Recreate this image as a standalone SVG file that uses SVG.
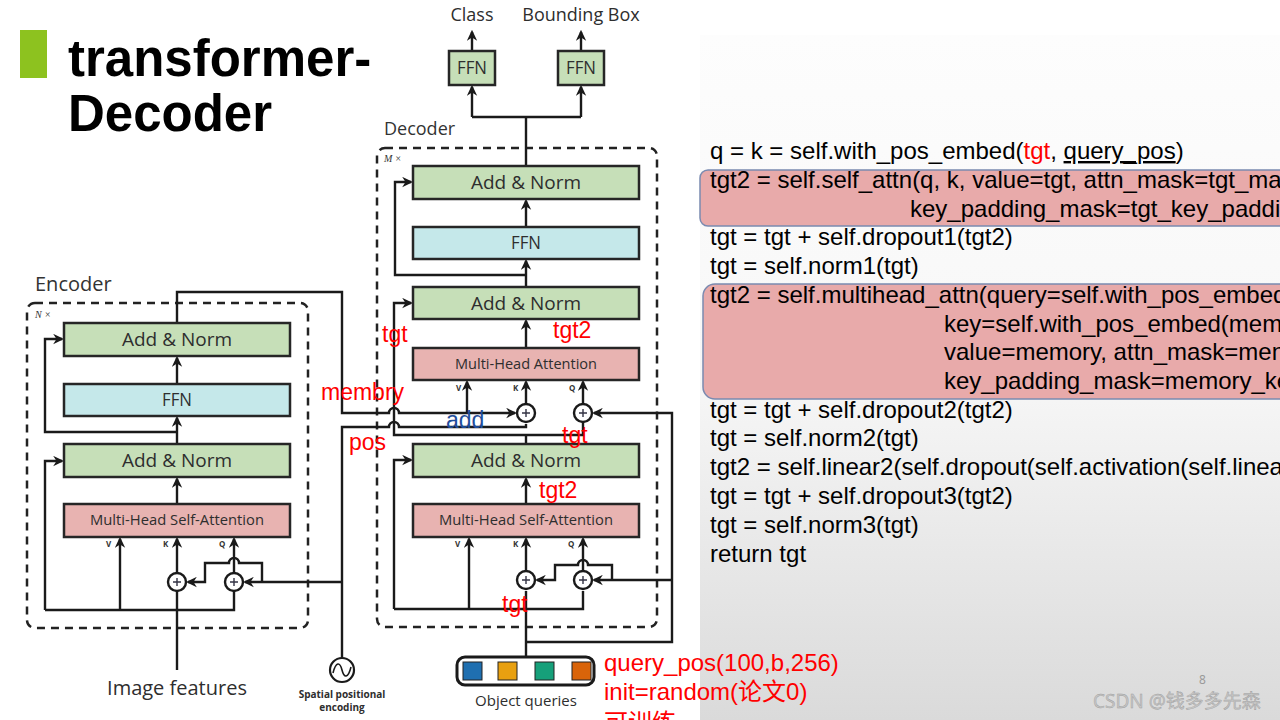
<svg xmlns="http://www.w3.org/2000/svg" width="1280" height="720" viewBox="0 0 1280 720">
<defs>
<linearGradient id="panelg" x1="0" y1="0" x2="0" y2="1">
<stop offset="0" stop-color="#fdfdfd"/>
<stop offset="0.5" stop-color="#f7f7f7"/>
<stop offset="1" stop-color="#dadada"/>
</linearGradient>
<marker id="ah" viewBox="0 0 10 10" refX="8" refY="5" markerWidth="11" markerHeight="11" markerUnits="userSpaceOnUse" orient="auto">
<path d="M0,0.3 L10,5 L0,9.7 L3,5 z" fill="#1a1a1a"/>
</marker>
</defs>
<style>
.box{stroke:#262626;stroke-width:2.5}
.an{fill:#c6dfb8}
.ffn{fill:#c5e8ea}
.mha{fill:#e8b3b1}
.bl{font-family:"Open Sans","DejaVu Sans",sans-serif;fill:#2e2e2e;text-anchor:middle}
.lab{font-family:"Open Sans","DejaVu Sans",sans-serif;fill:#333}
.vkq{font-family:"Open Sans","DejaVu Sans",sans-serif;font-size:8px;font-weight:bold;fill:#333}
.dash{fill:none;stroke:#222;stroke-width:2.5;stroke-dasharray:8,6}
.c{fill:none;stroke:#1a1a1a;stroke-width:2.4}
.a{marker-end:url(#ah)}
.plus{fill:#fff;stroke:#1a1a1a;stroke-width:2.4}
.pl{stroke:#334;stroke-width:1.4}
.red{font-family:"Liberation Sans",Arial,"Noto Sans CJK SC",sans-serif;font-size:23px;fill:#ff0000}
.code{font-family:"Liberation Sans",Arial,sans-serif;font-size:24px;fill:#000}
.hl{fill:#e8aaaa;stroke:#7a8ab0;stroke-width:1.5}
</style>
<rect x="0" y="0" width="1280" height="720" fill="#fff"/>
<rect x="700" y="35" width="580" height="685" fill="url(#panelg)"/>

<g id="title">
<rect x="20" y="30" width="27" height="48" fill="#8dc21f"/>
<text x="68" y="76" font-family="Liberation Sans,Arial,sans-serif" font-weight="bold" font-size="51" fill="#000">transformer-</text>
<text x="68" y="131" font-family="Liberation Sans,Arial,sans-serif" font-weight="bold" font-size="51" fill="#000">Decoder</text>
</g>

<g id="code-panel">
<rect class="hl" x="700" y="170" width="600" height="56" rx="8"/>
<rect class="hl" x="703" y="284" width="600" height="115" rx="12"/>
<text class="code" x="710" y="159">q = k = self.with_pos_embed(<tspan fill="#ff0000">tgt</tspan>, <tspan text-decoration="underline">query_pos</tspan>)</text>
<text class="code" x="710" y="188">tgt2 = self.self_attn(q, k, value=tgt, attn_mask=tgt_ma</text>
<text class="code" x="910" y="217">key_padding_mask=tgt_key_paddi</text>
<text class="code" x="710" y="245">tgt = tgt + self.dropout1(tgt2)</text>
<text class="code" x="710" y="274">tgt = self.norm1(tgt)</text>
<text class="code" x="710" y="303">tgt2 = self.multihead_attn(query=self.with_pos_embed</text>
<text class="code" x="944" y="332">key=self.with_pos_embed(mem</text>
<text class="code" x="944" y="360">value=memory, attn_mask=men</text>
<text class="code" x="944" y="389">key_padding_mask=memory_ke</text>
<text class="code" x="710" y="418">tgt = tgt + self.dropout2(tgt2)</text>
<text class="code" x="710" y="446">tgt = self.norm2(tgt)</text>
<text class="code" x="710" y="475">tgt2 = self.linear2(self.dropout(self.activation(self.linea</text>
<text class="code" x="710" y="504">tgt = tgt + self.dropout3(tgt2)</text>
<text class="code" x="710" y="533">tgt = self.norm3(tgt)</text>
<text class="code" x="710" y="562">return tgt</text>
<text x="1199" y="684" font-family="Noto Sans,sans-serif" font-size="12" fill="#9a9a9a">8</text>
<text x="1093" y="708" font-family="Noto Sans,'Noto Sans CJK SC',sans-serif" font-size="19" fill="#c6c6c6" stroke="#9c9c9c" stroke-width="0.4">CSDN @钱多多先森</text>
</g>

<g id="encoder-frame">
<rect class="dash" x="27" y="303" width="281" height="325" rx="8"/>
<text class="lab" x="35" y="291" font-size="20">Encoder</text>
<text x="35" y="318" font-family="Liberation Serif,serif" font-style="italic" font-size="10" fill="#333">N ×</text>
</g>

<g id="decoder-frame">
<rect class="dash" x="377" y="148" width="280" height="479" rx="8"/>
<text class="lab" x="384" y="135" font-size="18">Decoder</text>
<text x="384" y="162" font-family="Liberation Serif,serif" font-style="italic" font-size="10" fill="#333">M ×</text>
</g>

<g id="connectors">
<path class="c" d="M177,670 V591"/>
<path class="c a" d="M177,573 V539"/>
<path class="c" d="M45,610 H234 V591"/>
<path class="c a" d="M120,610 V539"/>
<path class="c a" d="M234,573 V539"/>
<path class="c a" d="M45,610 V461 H62"/>
<path class="c a" d="M177,504 V479"/>
<path class="c a" d="M177,444 V418"/>
<path class="c a" d="M177,432 H45 V339 H62"/>
<path class="c a" d="M177,384 V358"/>
<path class="c a" d="M177,323 V292 H342 V413 H389 a5,5 0 0 1 10,0 H515"/>
<path class="c a" d="M467,413 V382"/>
<path class="c" d="M342,658 V427 H389 a5,5 0 0 1 10,0 H526 V424"/>
<path class="c a" d="M342,582 H245"/>
<path class="c a" d="M262,582 V563 H239 a5,5 0 0 0 -10,0 H205 V582 H188"/>
<path class="c" d="M526,657 V591"/>
<path class="c a" d="M526,642 H672 V413 H594"/>
<path class="c a" d="M672,580 H594"/>
<path class="c a" d="M612,580 V565 H588 a5,5 0 0 0 -10,0 H555 V580 H537"/>
<path class="c" d="M394,609 H583 V591"/>
<path class="c a" d="M469,609 V539"/>
<path class="c a" d="M526,571 V539"/>
<path class="c a" d="M583,571 V539"/>
<path class="c a" d="M394,609 V460 H411"/>
<path class="c a" d="M526,504 V479"/>
<path class="c" d="M526,444 V435"/>
<path class="c a" d="M583,422 V435 H394 V303 H411"/>
<path class="c a" d="M526,404 V382"/>
<path class="c a" d="M583,404 V382"/>
<path class="c a" d="M526,348 V321"/>
<path class="c a" d="M526,287 V261"/>
<path class="c a" d="M526,275 H395 V182 H411"/>
<path class="c a" d="M526,227 V201"/>
<path class="c" d="M526,166 V117"/>
<path class="c" d="M472,117 H581"/>
<path class="c a" d="M472,117 V87"/>
<path class="c a" d="M581,117 V87"/>
<path class="c a" d="M472,51 V32"/>
<path class="c a" d="M581,51 V32"/>
</g>

<g id="enc-addnorm2"><rect class="box an" x="64" y="323" width="226" height="33"/><text class="bl" x="177" y="346" font-size="19">Add &amp; Norm</text></g>
<g id="enc-ffn"><rect class="box ffn" x="64" y="384" width="226" height="32"/><text class="bl" x="177" y="406" font-size="18" textLength="30" lengthAdjust="spacingAndGlyphs">FFN</text></g>
<g id="enc-addnorm1"><rect class="box an" x="64" y="444" width="226" height="33"/><text class="bl" x="177" y="467" font-size="19">Add &amp; Norm</text></g>
<g id="enc-mhsa"><rect class="box mha" x="64" y="504" width="226" height="33"/><text class="bl" x="177" y="525" font-size="14" textLength="174" lengthAdjust="spacingAndGlyphs">Multi-Head Self-Attention</text></g>
<g id="enc-vkq"><text class="vkq" x="106" y="547">V</text><text class="vkq" x="163" y="547">K</text><text class="vkq" x="219" y="547">Q</text></g>
<g id="enc-add-k"><circle class="plus" cx="177" cy="582" r="9"/><path class="pl" d="M173,582 H181 M177,578 V586"/></g>
<g id="enc-add-q"><circle class="plus" cx="234" cy="582" r="9"/><path class="pl" d="M230,582 H238 M234,578 V586"/></g>
<g id="image-features"><text class="bl" x="177" y="695" font-size="20">Image features</text></g>
<g id="spatial-encoding">
<circle cx="342" cy="670" r="12" fill="#fff" stroke="#1a1a1a" stroke-width="2.2"/>
<path d="M333,673 C336,661 340,662 342,670 C344,678 348,679 351,667" fill="none" stroke="#1a1a1a" stroke-width="1.6"/>
<text class="bl" x="342" y="698" font-size="10" font-weight="bold">Spatial  positional</text>
<text class="bl" x="342" y="711" font-size="10" font-weight="bold">encoding</text>
</g>

<g id="dec-addnorm3"><rect class="box an" x="413" y="166" width="226" height="33"/><text class="bl" x="526" y="189" font-size="19">Add &amp; Norm</text></g>
<g id="dec-ffn"><rect class="box ffn" x="413" y="227" width="226" height="32"/><text class="bl" x="526" y="249" font-size="18" textLength="30" lengthAdjust="spacingAndGlyphs">FFN</text></g>
<g id="dec-addnorm2"><rect class="box an" x="413" y="287" width="226" height="32"/><text class="bl" x="526" y="310" font-size="19">Add &amp; Norm</text></g>
<g id="dec-mha"><rect class="box mha" x="413" y="348" width="226" height="32"/><text class="bl" x="526" y="369" font-size="14" textLength="142" lengthAdjust="spacingAndGlyphs">Multi-Head Attention</text></g>
<g id="dec-mha-vkq"><text class="vkq" x="456" y="391">V</text><text class="vkq" x="513" y="391">K</text><text class="vkq" x="569" y="391">Q</text></g>
<g id="dec-add-k2"><circle class="plus" cx="526" cy="413" r="9"/><path class="pl" d="M522,413 H530 M526,409 V417"/></g>
<g id="dec-add-q2"><circle class="plus" cx="583" cy="413" r="9"/><path class="pl" d="M579,413 H587 M583,409 V417"/></g>
<g id="dec-addnorm1"><rect class="box an" x="413" y="444" width="226" height="33"/><text class="bl" x="526" y="467" font-size="19">Add &amp; Norm</text></g>
<g id="dec-mhsa"><rect class="box mha" x="413" y="504" width="226" height="33"/><text class="bl" x="526" y="525" font-size="14" textLength="174" lengthAdjust="spacingAndGlyphs">Multi-Head Self-Attention</text></g>
<g id="dec-mhsa-vkq"><text class="vkq" x="455" y="547">V</text><text class="vkq" x="513" y="547">K</text><text class="vkq" x="568" y="547">Q</text></g>
<g id="dec-add-k1"><circle class="plus" cx="526" cy="580" r="9"/><path class="pl" d="M522,580 H530 M526,576 V584"/></g>
<g id="dec-add-q1"><circle class="plus" cx="583" cy="580" r="9"/><path class="pl" d="M579,580 H587 M583,576 V584"/></g>

<g id="ffn-class"><rect class="box an" x="449" y="51" width="46" height="34"/><text class="bl" x="472" y="74" font-size="18" textLength="30" lengthAdjust="spacingAndGlyphs">FFN</text><text class="bl" x="472" y="21" font-size="18">Class</text></g>
<g id="ffn-box"><rect class="box an" x="558" y="51" width="46" height="34"/><text class="bl" x="581" y="74" font-size="18" textLength="30" lengthAdjust="spacingAndGlyphs">FFN</text><text class="bl" x="581" y="21" font-size="18">Bounding Box</text></g>

<g id="object-queries">
<rect x="457" y="657" width="137" height="28" rx="8" fill="#fff" stroke="#1a1a1a" stroke-width="3"/>
<rect x="463" y="662" width="19" height="18" fill="#1f6fb0" stroke="#222" stroke-width="1"/>
<rect x="498" y="662" width="19" height="18" fill="#e8a010" stroke="#222" stroke-width="1"/>
<rect x="535" y="662" width="19" height="18" fill="#16a07a" stroke="#222" stroke-width="1"/>
<rect x="572" y="662" width="19" height="18" fill="#d9640a" stroke="#222" stroke-width="1"/>
<text class="bl" x="526" y="706" font-size="15">Object queries</text>
</g>

<g id="annotations">
<text class="red" x="382" y="342">tgt</text>
<text class="red" x="553" y="338">tgt2</text>
<text class="red" x="321" y="400">membry</text>
<text class="red" x="446" y="428" style="fill:#1f4e9c">add</text>
<text class="red" x="349" y="450">pos</text>
<text class="red" x="562" y="443">tgt</text>
<text class="red" x="539" y="498">tgt2</text>
<text class="red" x="502" y="612">tgt</text>
<text class="red" x="604" y="671" style="font-size:24px">query_pos(100,b,256)</text>
<text class="red" x="604" y="700" style="font-size:24px">init=random(论文0)</text>
<text class="red" x="604" y="731" style="font-size:24px">可训练</text>
</g>
</svg>
